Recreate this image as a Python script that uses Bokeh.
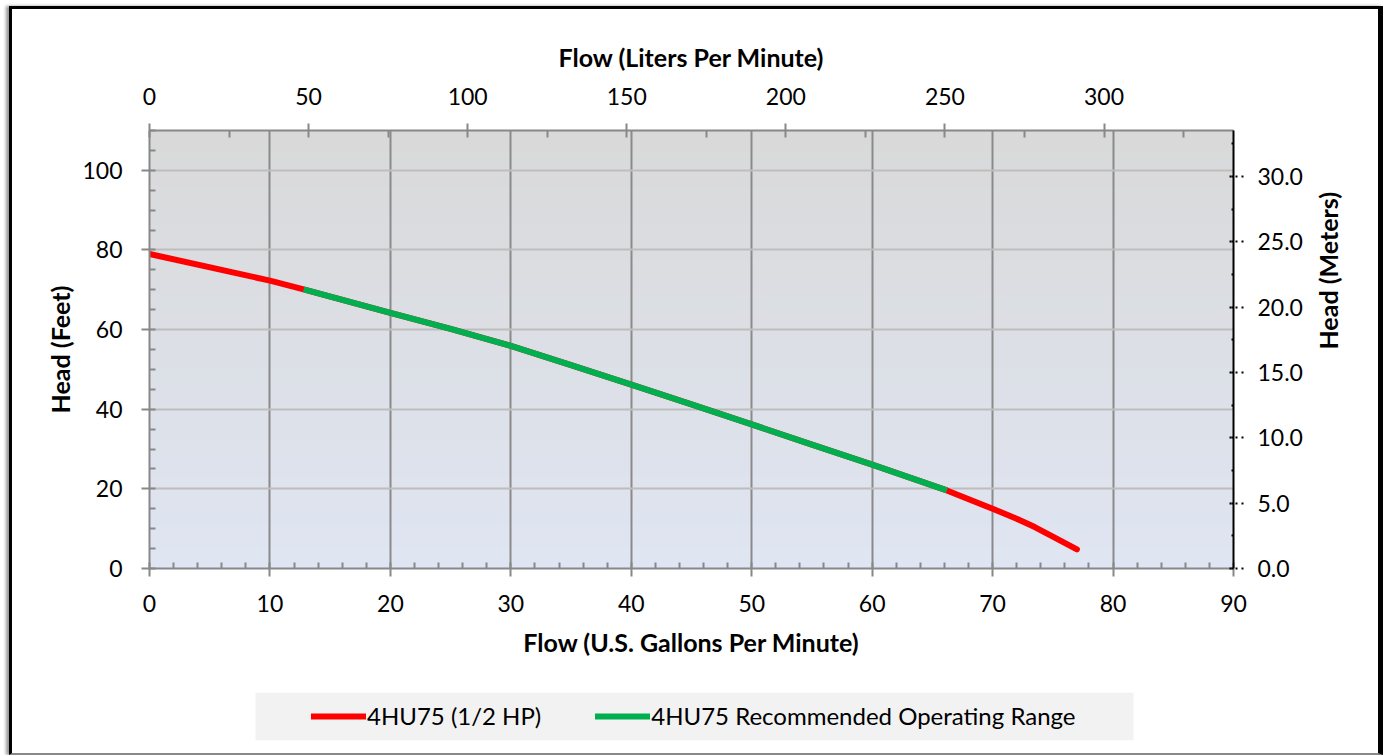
import math
import numpy as np
from bokeh.plotting import figure
from bokeh.layouts import column
from bokeh.models import (LinearAxis, Range1d, SingleIntervalTicker, Legend, LegendItem,
                          PrintfTickFormatter, BoxAnnotation)
from bokeh.embed import file_html
from bokeh.resources import INLINE

# ---------------- data ----------------
pump_gpm = [0, 10, 12.8, 20, 25, 30, 35, 40, 45, 50, 55, 60, 66.2, 70, 72, 73.5, 75, 77]
pump_head_ft = [79, 72.3, 70.1, 64.2, 60.2, 55.9, 51.1, 46.2, 41.2, 36.2, 31.1, 26.1,
                19.6, 15.0, 12.5, 10.4, 8.0, 4.8]
range_gpm = [12.8, 20, 25, 30, 35, 40, 45, 50, 55, 60, 66.2]
range_head_ft = [70.1, 64.2, 60.2, 55.9, 51.1, 46.2, 41.2, 36.2, 31.1, 26.1, 19.6]
series_names = ["4HU75 (1/2 HP)", "4HU75 Recommended Operating Range"]
series_colors = ["#ff0000", "#00b050"]

GPM_MAX = 90
FT_MAX = 110
L_PER_GAL = 3.78541
FT_PER_M = 3.28084

FONT = "Lato"
W = 1366
BORDER_L, BORDER_R = 137, 145

p = figure(width=W, height=676,
           x_range=Range1d(0, GPM_MAX), y_range=Range1d(0, FT_MAX),
           output_backend="svg", toolbar_location=None,
           min_border_left=BORDER_L, min_border_right=BORDER_R,
           min_border_top=121, min_border_bottom=117)
p.outline_line_color = None
p.background_fill_color = "#dcdfe6"
p.border_fill_color = "white"

# gradient plot area background
rows = 200
t = np.linspace(0.0, 1.0, rows)[:, None]
bottom_rgb = np.array([223, 229, 242])
top_rgb = np.array([217, 217, 217])
img = np.empty((rows, 2), dtype=np.uint32)
view = img.view(dtype=np.uint8).reshape((rows, 2, 4))
for k in range(3):
    view[:, :, k] = np.round(bottom_rgb[k] + (top_rgb[k] - bottom_rgb[k]) * t).astype(np.uint8)
view[:, :, 3] = 255
p.image_rgba(image=[img], x=0, y=0, dw=GPM_MAX, dh=FT_MAX, level="image")

# grids
p.xgrid.ticker = SingleIntervalTicker(interval=10)
p.xgrid.grid_line_color = "#8a8a8a"
p.xgrid.grid_line_width = 2
p.ygrid.ticker = SingleIntervalTicker(interval=20)
p.ygrid.grid_line_color = "#bdbdbd"
p.ygrid.grid_line_width = 2

def style_axis(ax, color="#888888"):
    ax.axis_line_color = color
    ax.axis_line_width = 2
    ax.major_tick_line_color = color
    ax.major_tick_line_width = 2
    ax.minor_tick_line_color = color
    ax.minor_tick_line_width = 2
    ax.major_label_text_font = FONT
    ax.major_label_text_font_size = "23px"
    ax.major_label_text_color = "black"
    ax.axis_label_text_font = FONT
    ax.axis_label_text_font_style = "bold"
    ax.axis_label_text_font_size = "25px"
    ax.axis_label_text_color = "black"

# bottom axis (GPM)
xa = p.xaxis[0]
xa.ticker = SingleIntervalTicker(interval=10, num_minor_ticks=5)
xa.axis_label = "Flow (U.S. Gallons Per Minute)"
style_axis(xa)
xa.major_tick_out = 8
xa.major_tick_in = 0
xa.minor_tick_out = 0
xa.minor_tick_in = 6
xa.major_label_standoff = 18
xa.axis_label_standoff = 12

# left axis (feet)
ya = p.yaxis[0]
ya.ticker = SingleIntervalTicker(interval=20, num_minor_ticks=4)
ya.axis_label = "Head (Feet)"
style_axis(ya)
ya.major_tick_out = 8
ya.major_tick_in = 0
ya.minor_tick_out = 0
ya.minor_tick_in = 6
ya.major_label_standoff = 19
ya.axis_label_standoff = 4

# top axis (liters per minute)
p.extra_x_ranges = {"lpm": Range1d(0, GPM_MAX * L_PER_GAL)}
top = LinearAxis(x_range_name="lpm",
                 ticker=SingleIntervalTicker(interval=50, num_minor_ticks=2),
                 axis_label="Flow (Liters Per Minute)")
style_axis(top)
top.major_tick_out = 7
top.major_tick_in = 0
top.minor_tick_out = 0
top.minor_tick_in = 7
top.major_label_standoff = 19
top.axis_label_standoff = 13
p.add_layout(top, "above")

# right axis (meters)
p.extra_y_ranges = {"m": Range1d(0, FT_MAX / FT_PER_M)}
right = LinearAxis(y_range_name="m",
                   ticker=SingleIntervalTicker(interval=5, num_minor_ticks=2),
                   formatter=PrintfTickFormatter(format="%.1f"),
                   axis_label="Head (Meters)")
style_axis(right, color="black")
right.major_tick_line_dash = "dotted"
right.minor_tick_line_dash = "dotted"
right.major_tick_out = 10
right.major_tick_in = 6
right.minor_tick_out = 0
right.minor_tick_in = 6
right.major_label_standoff = 14
right.axis_label_standoff = 22
right.axis_label_orientation = math.pi / 2
right.axis_label_text_align = "center"
right.axis_label_text_baseline = "middle"
p.add_layout(right, "right")

# curves
p.line(pump_gpm, pump_head_ft, line_color=series_colors[0], line_width=6,
       line_cap="round", line_join="round")
p.line(range_gpm, range_head_ft, line_color=series_colors[1], line_width=6,
       line_cap="butt", line_join="round")

# ---------------- legend strip ----------------
lg = figure(width=W, height=68, x_range=Range1d(0, 1), y_range=Range1d(0, 1),
            output_backend="svg", toolbar_location=None,
            x_axis_location=None, y_axis_location=None,
            min_border_left=BORDER_L, min_border_right=BORDER_R,
            min_border_top=7, min_border_bottom=13)
lg.grid.visible = False
lg.outline_line_color = None
lg.background_fill_color = "white"
lg.border_fill_color = "white"
lg.add_layout(BoxAnnotation(left=106, right=984, left_units="screen", right_units="screen",
                            fill_color="#f2f2f2", fill_alpha=1.0, line_color=None,
                            level="underlay"))
key_renderers = [lg.line(x=pump_gpm, y=pump_head_ft, line_color=series_colors[0],
                         line_width=6, line_cap="round", visible=False),
                 lg.line(x=range_gpm, y=range_head_ft, line_color=series_colors[1],
                         line_width=6, line_cap="round", visible=False)]
legend = Legend(items=[LegendItem(label=n, renderers=[r])
                       for n, r in zip(series_names, key_renderers)],
                orientation="horizontal", location=(162, 10))
legend.background_fill_alpha = 0.0
legend.border_line_color = None
legend.inactive_fill_alpha = 0.0
legend.label_text_font = FONT
legend.label_text_font_size = "24px"
legend.label_text_color = "black"
legend.glyph_width = 55
legend.glyph_height = 20
legend.label_standoff = 1
legend.spacing = 54
legend.padding = 0
legend.margin = 0
lg.add_layout(legend, "center")

page = column(p, lg)
page.styles = {"margin-left": "9px", "margin-top": "6px",
               "border-style": "solid",
               "border-color": "black black #888888 black",
               "border-width": "3px 5px 2px 3px",
               "box-shadow": "-3px 0px 3px #999"}

open("out.html", "w").write(file_html(page, INLINE))
